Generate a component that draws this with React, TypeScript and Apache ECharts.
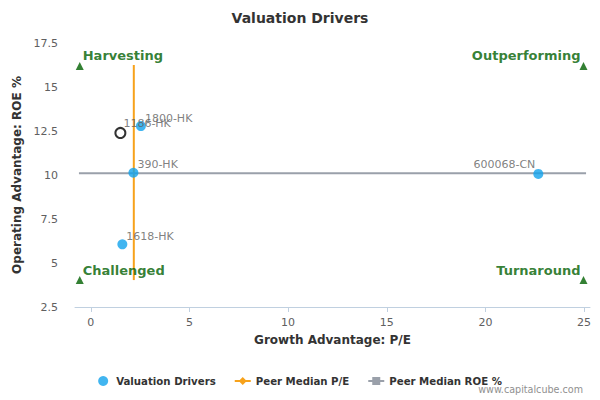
import React, { useEffect, useRef } from "react";
import * as echarts from "echarts";

// Company positions: P/E growth advantage vs ROE operating advantage
const companies = ["1800-HK", "1186-HK", "390-HK", "1618-HK", "600068-CN"];
const peValues = [2.54, 1.5, 2.16, 1.6, 22.68];
const roeValues = [12.78, 12.39, 10.13, 6.06, 10.06];
const highlighted = "1186-HK";

// Peer medians
const medianPE = 2.18;
const medianROE = 10.1;
const medianPERange = [4.03, 16.25];
const medianROERange = [-0.6, 25.1];

// Quadrant corner markers
const quadrantNames = ["Harvesting", "Outperforming", "Challenged", "Turnaround"];
const quadrantX = [-0.56, 24.97, -0.56, 24.97];
const quadrantY = [16.2, 16.2, 4.03, 4.03];

const xTicks = [0, 5, 10, 15, 20, 25];

const FONT = "DejaVu Sans";
const BLUE = "#12a2ec";
const ORANGE = "#f7a21b";
const GRAY = "#9aa0aa";
const GREEN = "#006000";

export default function App() {
  const ref = useRef<HTMLDivElement>(null);

  useEffect(() => {
    if (!ref.current) return;
    const chart = echarts.init(ref.current, undefined, { renderer: "svg" });

    const pointData = companies.map((name, i) => {
      const isHi = name === highlighted;
      const leftSide = peValues[i] > 15;
      return {
        name,
        value: [peValues[i], roeValues[i]],
        itemStyle: isHi
          ? { color: "#ffffff", borderColor: "#000000", borderWidth: 2 }
          : { color: BLUE },
        label: {
          show: true,
          formatter: name,
          position: leftSide ? [2, -4] : [9, -3],
          align: leftSide ? "right" : "left",
          verticalAlign: "middle",
        },
      };
    });

    const quadrantData = quadrantNames.map((name, i) => {
      const left = quadrantX[i] < 10;
      return {
        name,
        value: [quadrantX[i], quadrantY[i]],
        label: {
          show: true,
          formatter: name,
          position: left ? [7, -6] : [1, -6],
          align: left ? "left" : "right",
          verticalAlign: "middle",
        },
      };
    });

    chart.setOption({
      animation: false,
      textStyle: { fontFamily: FONT },
      title: [
        {
          text: "Valuation Drivers",
          left: "center",
          top: 6,
          textStyle: { fontFamily: FONT, fontSize: 14, fontWeight: "bold", color: "#333333" },
        },
        {
          text: "www.capitalcube.com",
          right: 12,
          bottom: 1,
          textStyle: { fontFamily: FONT, fontSize: 9.6, fontWeight: "normal", color: "#909090" },
        },
      ],
      legend: {
        bottom: 9,
        left: "center",
        itemGap: 19,
        itemWidth: 16,
        itemHeight: 10,
        textStyle: { fontFamily: FONT, fontSize: 10.2, fontWeight: "bold", color: "#333333" },
        data: [
          { name: "Valuation Drivers", icon: "circle", itemStyle: { color: BLUE } },
          {
            name: "Peer Median P/E",
            icon: "path://M0,4 L5,4 L8,1 L11,4 L16,4 L16,6 L11,6 L8,9 L5,6 L0,6 Z",
            itemStyle: { color: ORANGE },
          },
          {
            name: "Peer Median ROE %",
            icon: "path://M0,4 L4,4 L4,1 L12,1 L12,4 L16,4 L16,6 L12,6 L12,9 L4,9 L4,6 L0,6 Z",
            itemStyle: { color: GRAY },
          },
        ],
      },
      grid: { left: 75, right: 10, top: 43, bottom: 93 },
      xAxis: {
        type: "value",
        min: -0.8,
        max: 25.3,
        name: "Growth Advantage: P/E",
        nameLocation: "middle",
        nameGap: 27,
        nameTextStyle: { fontFamily: FONT, fontSize: 12, fontWeight: "bold", color: "#333333" },
        axisLine: { show: true, onZero: false, lineStyle: { color: "#c0d0e0" } },
        axisTick: { show: true, length: 5, customValues: xTicks, lineStyle: { color: "#c0d0e0" } },
        axisLabel: { customValues: xTicks, margin: 10, fontSize: 11, color: "#606060" },
        splitLine: { show: false },
      },
      yAxis: {
        type: "value",
        min: 2.5,
        max: 17.5,
        interval: 2.5,
        name: "Operating Advantage: ROE %",
        nameLocation: "middle",
        nameGap: 46,
        nameTextStyle: { fontFamily: FONT, fontSize: 12, fontWeight: "bold", color: "#333333" },
        axisLine: { show: false },
        axisTick: { show: false },
        axisLabel: { margin: 17, fontSize: 11, color: "#606060" },
        splitLine: { show: false },
      },
      series: [
        {
          name: "Peer Median P/E",
          type: "line",
          symbol: "none",
          data: [
            [medianPE, medianPERange[0]],
            [medianPE, medianPERange[1]],
          ],
          lineStyle: { color: ORANGE, width: 2 },
          itemStyle: { color: ORANGE },
          z: 2,
        },
        {
          name: "Peer Median ROE %",
          type: "line",
          symbol: "none",
          data: [
            [medianROERange[0], medianROE],
            [medianROERange[1], medianROE],
          ],
          lineStyle: { color: GRAY, width: 2 },
          itemStyle: { color: GRAY },
          z: 2,
        },
        {
          name: "Valuation Drivers",
          type: "scatter",
          symbol: "circle",
          symbolSize: 10,
          data: pointData,
          itemStyle: { color: BLUE },
          label: { fontFamily: FONT, fontSize: 11, color: "#606060" },
          z: 3,
        },
        {
          name: "Quadrants",
          type: "scatter",
          symbol: "triangle",
          symbolSize: 8,
          data: quadrantData,
          itemStyle: { color: GREEN },
          label: { fontFamily: FONT, fontSize: 13, fontWeight: "bold", color: GREEN },
          z: 3,
        },
      ],
    });

    return () => chart.dispose();
  }, []);

  return (
    <div style={{ position: "absolute", left: 0, top: 0 }}>
      <div ref={ref} style={{ width: 600, height: 400 }} />
    </div>
  );
}
